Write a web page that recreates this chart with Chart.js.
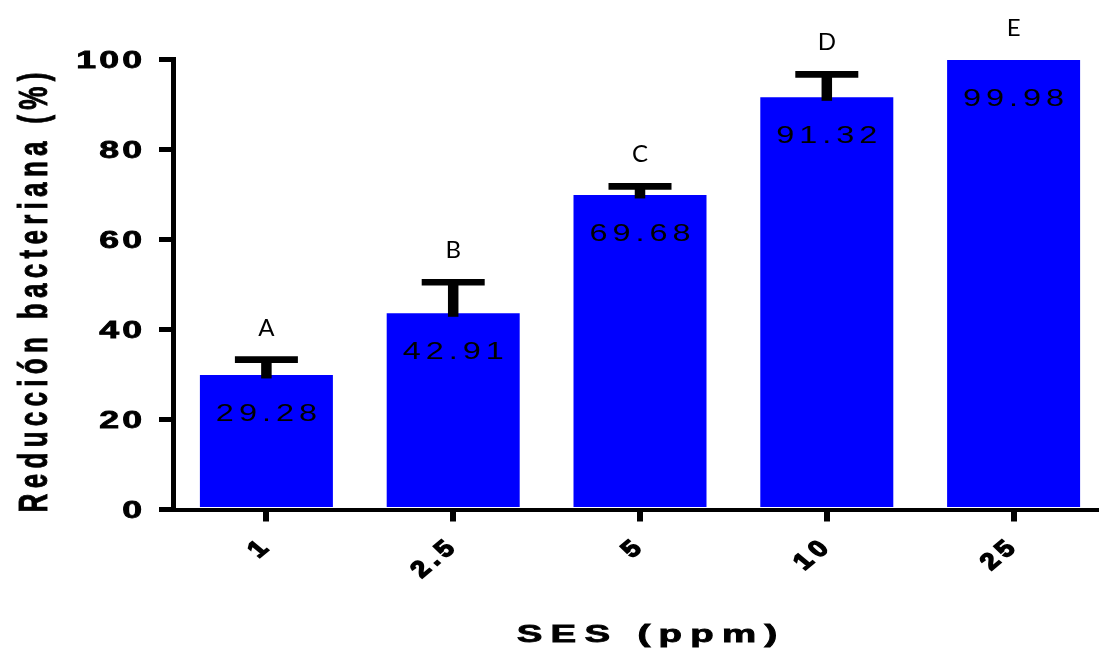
<!DOCTYPE html>
<html>
<head>
<meta charset="utf-8">
<script src="https://cdn.jsdelivr.net/npm/chart.js@4.4.1/dist/chart.umd.min.js"></script>
<style>
  html, body { margin: 0; padding: 0; background: #fff; overflow: hidden; }
</style>
</head>
<body>
<canvas id="ses-chart" width="1110" height="650"></canvas>
<script>
// data
var categories   = ["1", "2.5", "5", "10", "25"];
var means        = [29.9, 43.6, 69.9, 91.6, 99.9];
var errors       = [3.4, 6.9, 1.9, 5.1, 0];
var valueLabels  = ["29.28", "42.91", "69.68", "91.32", "99.98"];
var groupLetters = ["A", "B", "C", "D", "E"];
var yTitle = "Reducción bacteriana (%)";
var xTitle = "SES (ppm)";

var SANS = "'Liberation Sans', Arial, sans-serif";

// draws text char by char so it can be stretched / spaced like the original
function drawText(ctx, str, o) {
    ctx.save();
    ctx.font = o.font;
    ctx.fillStyle = "#000";
    ctx.strokeStyle = "#000";
    ctx.textAlign = "left";
    ctx.textBaseline = "alphabetic";
    ctx.translate(o.x, o.y);
    ctx.scale(o.sx || 1, 1);
    if (o.rot) ctx.rotate(o.rot);
    var chars = Array.from(str);
    var sp = o.spacing || 0;
    var adv = chars.map(function (c) { return ctx.measureText(c).width + sp; });
    var total = adv.reduce(function (a, b) { return a + b; }, 0) - sp;
    var x = o.align === "right" ? -total : (o.align === "center" ? -total / 2 : 0);
    chars.forEach(function (c, i) {
        ctx.fillText(c, x, o.dy || 0);
        if (o.heavy) {
            ctx.lineWidth = o.heavy;
            ctx.strokeText(c, x, o.dy || 0);
        }
        x += adv[i];
    });
    ctx.restore();
}

var annotate = {
    id: "annotate",
    afterDatasetsDraw: function (chart) {
        var ctx = chart.ctx;
        var ys = chart.scales.y;
        var bars = chart.getDatasetMeta(0).data;
        for (var i = 0; i < means.length; i++) {
            var cx = bars[i].x;
            var top = ys.getPixelForValue(means[i]);
            var capY = ys.getPixelForValue(means[i] + errors[i]);
            // error bar (upper only)
            if (errors[i] > 0) {
                ctx.save();
                ctx.strokeStyle = "#000";
                ctx.lineCap = "butt";
                ctx.lineWidth = 10.5;
                ctx.beginPath();
                ctx.moveTo(cx, top + 3.5);
                ctx.lineTo(cx, capY);
                ctx.stroke();
                ctx.lineWidth = 6.7;
                ctx.beginPath();
                ctx.moveTo(cx - 31.5, capY);
                ctx.lineTo(cx + 31.5, capY);
                ctx.stroke();
                ctx.restore();
            }
            // value inside bar
            drawText(ctx, valueLabels[i], {
                x: cx, y: top + 46, font: "24px " + SANS, sx: 1.35, spacing: 3.7, align: "center"
            });
            // letter above
            drawText(ctx, groupLetters[i], {
                x: cx, y: capY - 24, font: "24px Lato, 'Open Sans', sans-serif", align: "center"
            });
        }
    },
    afterDraw: function (chart) {
        var ctx = chart.ctx;
        var xs = chart.scales.x, ys = chart.scales.y;
        var area = chart.chartArea;
        // y tick labels
        ys.ticks.forEach(function (t) {
            drawText(ctx, String(t.value), {
                x: 142, y: ys.getPixelForValue(t.value), dy: 8.2,
                font: "bold 23px " + SANS, sx: 1.55, spacing: 2, align: "right", heavy: 0.8
            });
        });
        // x tick labels, rotated
        categories.forEach(function (c, i) {
            drawText(ctx, c, {
                x: xs.getPixelForTick(i) - 4, y: 544, dy: 8.2, rot: -Math.PI / 4,
                font: "bold 23px " + SANS, sx: 1.2, spacing: 4.5, align: "right", heavy: 1.5
            });
        });
        // axis titles
        drawText(ctx, xTitle, {
            x: (area.left + area.right) / 2 + 7, y: 642,
            font: "bold 24px " + SANS, sx: 1.6, spacing: 5.2, align: "center", heavy: 0.8
        });
        drawText(ctx, yTitle, {
            x: 32.5, y: (area.top + area.bottom) / 2 + 8, dy: 9.3, rot: -Math.PI / 2,
            font: "bold 26px " + SANS, sx: 1.55, spacing: 5.3, align: "center", heavy: 0.6
        });
    }
};

var ctx1 = document.getElementById("ses-chart").getContext("2d");
var myChart1 = new Chart(ctx1, {
    type: "bar",
    data: {
        labels: categories,
        datasets: [{
            data: means,
            backgroundColor: "#0000ff",
            borderWidth: 0,
            barPercentage: 0.712,
            categoryPercentage: 1
        }]
    },
    options: {
        responsive: false,
        animation: false,
        layout: { padding: { left: 159, top: 59.5, right: 3, bottom: 128.5 } },
        plugins: { legend: { display: false }, tooltip: { enabled: false } },
        scales: {
            x: {
                ticks: { display: false },
                grid: { offset: false, drawOnChartArea: false, tickLength: 12, lineWidth: 6, color: "#000" },
                border: { color: "#000", width: 4, z: 1 },
                afterFit: function (s) { s.height = 12; }
            },
            y: {
                min: 0,
                max: 100,
                ticks: { display: false, stepSize: 20 },
                grid: { drawOnChartArea: false, tickLength: 14, lineWidth: 5, color: "#000" },
                border: { color: "#000", width: 5 },
                afterFit: function (s) { s.width = 14; }
            }
        }
    },
    plugins: [annotate]
});
</script>
</body>
</html>
